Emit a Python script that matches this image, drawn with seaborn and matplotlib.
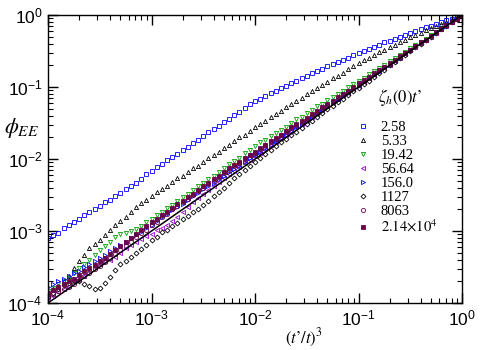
import matplotlib
matplotlib.use("Agg")
import matplotlib.pyplot as plt
import numpy as np
import seaborn as sns
from matplotlib.font_manager import FontProperties

# sample points in (t'/t)^3, given as log10 exponents
log_ratio = [-4.00, -3.95, -3.90, -3.85, -3.80, -3.75, -3.70, -3.65, -3.60, -3.55,
             -3.50, -3.45, -3.40, -3.35, -3.30, -3.25, -3.20, -3.15, -3.10, -3.05,
             -3.00, -2.95, -2.90, -2.85, -2.80, -2.75, -2.70, -2.65, -2.60, -2.55,
             -2.50, -2.45, -2.40, -2.35, -2.30, -2.25, -2.20, -2.15, -2.10, -2.05,
             -2.00, -1.95, -1.90, -1.85, -1.80, -1.75, -1.70, -1.65, -1.60, -1.55,
             -1.50, -1.45, -1.40, -1.35, -1.30, -1.25, -1.20, -1.15, -1.10, -1.05,
             -1.00, -0.95, -0.90, -0.85, -0.80, -0.75, -0.70, -0.65, -0.60, -0.55,
             -0.50, -0.45, -0.40, -0.35, -0.30, -0.25, -0.20, -0.15, -0.10, -0.05,
             0.00]

# log10 phi_EE for each zeta_h(0)t'
phi_2_58 = [-3.10, -3.06, -3.03, -2.96, -2.92, -2.87, -2.84, -2.78, -2.74, -2.70,
            -2.65, -2.60, -2.57, -2.51, -2.47, -2.41, -2.37, -2.34, -2.28, -2.21,
            -2.16, -2.11, -2.07, -2.02, -1.97, -1.93, -1.88, -1.83, -1.78, -1.73,
            -1.68, -1.63, -1.58, -1.54, -1.49, -1.44, -1.39, -1.34, -1.29, -1.24,
            -1.20, -1.16, -1.12, -1.08, -1.05, -1.01, -0.98, -0.95, -0.91, -0.88,
            -0.85, -0.81, -0.78, -0.75, -0.71, -0.68, -0.65, -0.62, -0.59, -0.56,
            -0.53, -0.50, -0.47, -0.44, -0.41, -0.38, -0.36, -0.33, -0.30, -0.28,
            -0.25, -0.22, -0.20, -0.17, -0.15, -0.12, -0.10, -0.07, -0.05, -0.02,
            0.00]
phi_5_33 = [-3.85, -3.80, -3.76, -3.70, -3.62, -3.52, -3.42, -3.33, -3.24, -3.18,
            -3.13, -3.05, -2.98, -2.92, -2.86, -2.80, -2.74, -2.67, -2.61, -2.57,
            -2.51, -2.46, -2.42, -2.37, -2.32, -2.27, -2.23, -2.18, -2.13, -2.09,
            -2.04, -1.99, -1.94, -1.90, -1.85, -1.80, -1.75, -1.70, -1.66, -1.61,
            -1.56, -1.51, -1.47, -1.42, -1.38, -1.33, -1.28, -1.24, -1.19, -1.15,
            -1.10, -1.06, -1.01, -0.97, -0.93, -0.88, -0.84, -0.80, -0.75, -0.71,
            -0.67, -0.63, -0.59, -0.56, -0.52, -0.48, -0.45, -0.41, -0.38, -0.34,
            -0.31, -0.28, -0.25, -0.21, -0.18, -0.15, -0.12, -0.09, -0.06, -0.03,
            0.00]
phi_19_42 = [-3.83, -3.79, -3.74, -3.70, -3.65, -3.58, -3.52, -3.46, -3.40, -3.33,
             -3.27, -3.21, -3.15, -3.09, -3.04, -3.03, -3.00, -2.97, -2.93, -2.88,
             -2.83, -2.78, -2.73, -2.68, -2.64, -2.59, -2.53, -2.48, -2.43, -2.38,
             -2.33, -2.28, -2.24, -2.18, -2.12, -2.07, -2.03, -1.98, -1.92, -1.87,
             -1.82, -1.77, -1.73, -1.68, -1.64, -1.59, -1.55, -1.50, -1.45, -1.41,
             -1.36, -1.32, -1.27, -1.23, -1.18, -1.14, -1.09, -1.05, -1.00, -0.96,
             -0.91, -0.87, -0.82, -0.78, -0.73, -0.69, -0.64, -0.60, -0.55, -0.51,
             -0.46, -0.42, -0.37, -0.33, -0.28, -0.23, -0.19, -0.14, -0.09, -0.05,
             0.00]
phi_56_64 = [-3.93, -3.90, -3.85, -3.80, -3.76, -3.70, -3.66, -3.62, -3.56, -3.50,
             -3.46, -3.42, -3.40, -3.36, -3.30, -3.24, -3.20, -3.15, -3.11, -3.07,
             -3.04, -2.99, -2.96, -2.92, -2.86, -2.80, -2.73, -2.66, -2.60, -2.54,
             -2.48, -2.43, -2.37, -2.32, -2.26, -2.21, -2.16, -2.11, -2.06, -2.01,
             -1.96, -1.91, -1.86, -1.81, -1.76, -1.71, -1.66, -1.61, -1.56, -1.51,
             -1.47, -1.42, -1.37, -1.32, -1.27, -1.22, -1.17, -1.13, -1.08, -1.03,
             -0.98, -0.93, -0.88, -0.83, -0.78, -0.74, -0.69, -0.64, -0.59, -0.54,
             -0.49, -0.44, -0.39, -0.35, -0.30, -0.25, -0.20, -0.15, -0.10, -0.05,
             0.00]
phi_156_0 = [-3.78, -3.74, -3.70, -3.66, -3.63, -3.59, -3.55, -3.50, -3.46, -3.42,
             -3.38, -3.33, -3.28, -3.24, -3.19, -3.15, -3.10, -3.06, -3.01, -2.96,
             -2.91, -2.86, -2.81, -2.76, -2.71, -2.67, -2.62, -2.57, -2.52, -2.47,
             -2.42, -2.37, -2.33, -2.28, -2.23, -2.18, -2.14, -2.09, -2.04, -1.99,
             -1.95, -1.90, -1.85, -1.80, -1.75, -1.71, -1.66, -1.61, -1.56, -1.51,
             -1.47, -1.42, -1.37, -1.32, -1.27, -1.22, -1.18, -1.13, -1.08, -1.03,
             -0.98, -0.93, -0.88, -0.83, -0.79, -0.74, -0.69, -0.64, -0.59, -0.54,
             -0.49, -0.44, -0.39, -0.34, -0.29, -0.25, -0.20, -0.15, -0.10, -0.05,
             0.00]
phi_1127 = [-3.92, -3.86, -3.80, -3.75, -3.72, -3.70, -3.70, -3.73, -3.77, -3.80,
            -3.79, -3.72, -3.64, -3.54, -3.46, -3.41, -3.36, -3.30, -3.25, -3.19,
            -3.13, -3.08, -3.02, -2.98, -2.93, -2.89, -2.84, -2.79, -2.74, -2.69,
            -2.64, -2.58, -2.52, -2.46, -2.40, -2.33, -2.27, -2.21, -2.15, -2.09,
            -2.04, -1.98, -1.93, -1.88, -1.82, -1.77, -1.72, -1.67, -1.62, -1.57,
            -1.52, -1.47, -1.41, -1.36, -1.31, -1.26, -1.21, -1.16, -1.11, -1.06,
            -1.01, -0.96, -0.91, -0.86, -0.81, -0.76, -0.70, -0.65, -0.60, -0.55,
            -0.50, -0.45, -0.40, -0.35, -0.30, -0.25, -0.20, -0.15, -0.10, -0.05,
            0.00]
phi_8063 = [-3.90, -3.87, -3.84, -3.81, -3.78, -3.73, -3.68, -3.63, -3.58, -3.53,
            -3.48, -3.43, -3.38, -3.32, -3.26, -3.21, -3.15, -3.09, -3.03, -2.98,
            -2.92, -2.87, -2.81, -2.76, -2.70, -2.65, -2.60, -2.55, -2.50, -2.45,
            -2.40, -2.35, -2.30, -2.25, -2.20, -2.15, -2.10, -2.05, -2.00, -1.95,
            -1.91, -1.86, -1.81, -1.76, -1.72, -1.67, -1.62, -1.57, -1.53, -1.48,
            -1.44, -1.39, -1.34, -1.29, -1.25, -1.20, -1.15, -1.10, -1.06, -1.01,
            -0.96, -0.91, -0.87, -0.82, -0.77, -0.72, -0.68, -0.63, -0.58, -0.53,
            -0.48, -0.43, -0.39, -0.34, -0.29, -0.24, -0.19, -0.14, -0.10, -0.05,
            0.00]
phi_2_14e4 = [-3.86, -3.82, -3.78, -3.74, -3.70, -3.66, -3.61, -3.56, -3.52, -3.47,
              -3.42, -3.37, -3.32, -3.26, -3.21, -3.15, -3.10, -3.04, -2.99, -2.93,
              -2.88, -2.83, -2.78, -2.73, -2.68, -2.63, -2.58, -2.53, -2.48, -2.43,
              -2.38, -2.33, -2.28, -2.23, -2.18, -2.13, -2.08, -2.04, -1.99, -1.94,
              -1.90, -1.85, -1.80, -1.75, -1.71, -1.66, -1.61, -1.56, -1.52, -1.47,
              -1.43, -1.38, -1.33, -1.28, -1.24, -1.19, -1.14, -1.09, -1.05, -1.00,
              -0.95, -0.90, -0.86, -0.81, -0.76, -0.72, -0.67, -0.62, -0.57, -0.53,
              -0.48, -0.43, -0.38, -0.34, -0.29, -0.24, -0.19, -0.14, -0.10, -0.05,
              0.00]

labels = ["2.58", "5.33", "19.42", "56.64", "156.0", "1127", "8063", r"$2.14{\times}10^4$"]
colors = ["#0000ff", "#000000", "#00a000", "#9400d3", "#0000ff", "#000000", "#670748", "#670748"]
markers = ["s", "^", "v", "<", ">", "D", "o", "s"]
filled = [False, False, False, False, False, False, False, True]

# (t'/t)^3 reference line
line_ratio = [1e-4, 1.0]
line_phi = [1e-4, 1.0]

series = [phi_2_58, phi_5_33, phi_19_42, phi_56_64, phi_156_0, phi_1127, phi_8063, phi_2_14e4]

sns.set_style("ticks", {"axes.edgecolor": "black", "xtick.color": "black", "ytick.color": "black",
                        "text.color": "black", "axes.labelcolor": "black",
                        "xtick.direction": "in", "ytick.direction": "in"})
plt.rcParams["font.family"] = ["Liberation Sans", "DejaVu Sans"]
plt.rcParams["axes.linewidth"] = 1.0

fig = plt.figure(figsize=(4.81, 3.5), dpi=100)
ax = fig.add_axes([0.0998, 0.1343, 0.8607, 0.8227])
ax.set_xscale("log")
ax.set_yscale("log")

ratio = 10.0 ** np.array(log_ratio)
handles = []
for vals, lab, c, m, f in zip(series, labels, colors, markers, filled):
    ms = 2.5 if m == "D" else 3.0
    sns.lineplot(x=ratio, y=10.0 ** np.array(vals), ax=ax, estimator=None, sort=False,
                 linestyle="none", marker=m, ms=ms, mec=c, mfc=c if f else "none",
                 mew=0.6, color=c, legend=False)
    line = ax.lines[-1]
    line.set_label(lab)
    handles.append(line)

sns.lineplot(x=line_ratio, y=line_phi, ax=ax, color="black", lw=1.1, zorder=5, legend=False)

ax.set_xlim(1e-4, 1)
ax.set_ylim(1e-4, 1)
ax.tick_params(which="both", direction="in", top=True, right=True, labelsize=12.5)
ax.tick_params(which="major", length=7, width=1.0, pad=4)
ax.tick_params(which="minor", length=3.5, width=0.8)

ax.set_xlabel("$(t\u2019/t)^3$", fontsize=12, math_fontfamily="stix", va="center")
ax.xaxis.set_label_coords(0.618, -0.12)
ax.set_ylabel(r"$\phi_{EE}$", fontsize=16, math_fontfamily="stix", rotation=0,
              ha="center", va="center")
ax.yaxis.set_label_coords(-0.063, 0.608)

ax.text(0.797, 0.712, "$\\zeta_h(0)t\u2019$", transform=ax.transAxes, fontsize=12,
        math_fontfamily="stix", va="center", ha="left")

leg_font = FontProperties(family="Liberation Serif", size=10.5, math_fontfamily="stix")
ax.legend(handles=handles, loc="upper left", bbox_to_anchor=(0.744, 0.632), frameon=False,
          prop=leg_font, handlelength=1.0, handletextpad=0.7, labelspacing=0.05,
          borderpad=0, borderaxespad=0, numpoints=1)

fig.savefig("out.png", dpi=100)
